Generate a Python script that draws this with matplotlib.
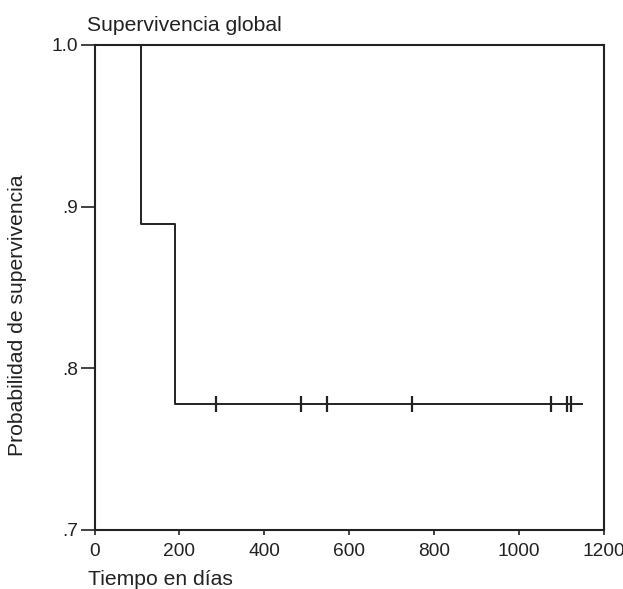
import matplotlib.pyplot as plt

plt.rcParams['font.family'] = ['Liberation Sans', 'DejaVu Sans']

# curva de Kaplan-Meier
tiempos_paso = [0, 110, 190]
supervivencia = [1.0, 0.889, 0.778]
tiempo_final = 1150
censuras = [286, 486, 548, 748, 1077, 1114, 1124]

xticks = [0, 200, 400, 600, 800, 1000, 1200]
yticks = [0.7, 0.8, 0.9, 1.0]
ytick_labels = ['.7', '.8', '.9', '1.0']

col = '#222222'

fig = plt.figure(figsize=(6.23, 5.89), dpi=100)
ax = fig.add_axes([0.1517, 0.1002, 0.8170, 0.8234])

xs = tiempos_paso + [tiempo_final]
ys = supervivencia + [supervivencia[-1]]
ax.step(xs, ys, where='post', color=col, linewidth=1.4, clip_on=False, zorder=3)

# marcas de censura sobre la ultima meseta
y_cens = [supervivencia[-1]] * len(censuras)
ax.plot(censuras, y_cens, linestyle='none', marker='|', markersize=11,
        markeredgewidth=1.6, color=col, zorder=4)

ax.set_xlim(0, 1200)
ax.set_ylim(0.7, 1.0)
ax.set_xticks(xticks)
ax.set_yticks(yticks)
ax.set_yticklabels(ytick_labels)

for s in ax.spines.values():
    s.set_linewidth(1.5)
    s.set_color(col)

ax.tick_params(axis='x', direction='out', length=3.5, width=1.2, pad=6,
               labelsize=13.8, colors=col)
ax.tick_params(axis='y', direction='out', length=10, width=1.2, pad=2,
               labelsize=13.8, colors=col)

fs = 15.2
fig.text(87 / 623, 1 - 31 / 589, 'Supervivencia global', fontsize=fs,
         color=col, ha='left', va='baseline')
fig.text(18 / 623, 1 - 315 / 589, 'Probabilidad de supervivencia',
         fontsize=fs, color=col, rotation=90, ha='center', va='center')
fig.text(88 / 623, 1 - 585 / 589, 'Tiempo en días', fontsize=fs,
         color=col, ha='left', va='baseline')

fig.savefig('out.png', dpi=100)
